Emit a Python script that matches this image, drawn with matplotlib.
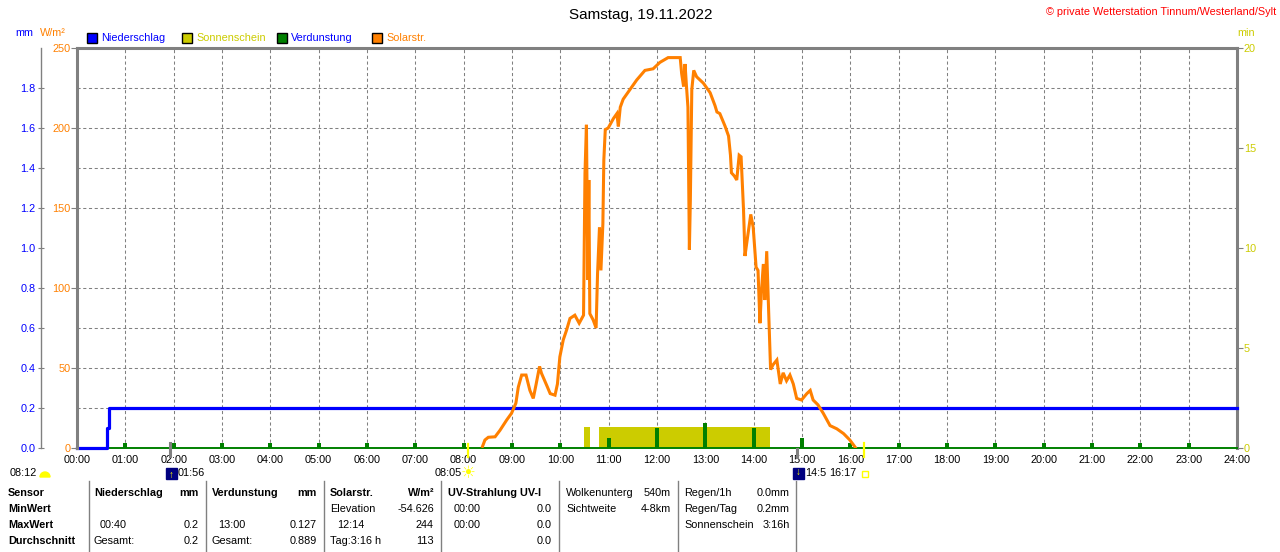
import matplotlib
matplotlib.use("Agg")
import matplotlib.pyplot as plt
from matplotlib.patches import Rectangle, Wedge
from matplotlib.transforms import IdentityTransform

plt.rcParams['font.family'] = ['Liberation Sans', 'DejaVu Sans']
plt.rcParams['font.size'] = 7.8

# Solarstrahlung (W/m²), Zeit in Stunden
solar_t = [8.39, 8.44, 8.51, 8.65, 8.75, 8.89, 8.99, 9.08, 9.13, 9.20,
           9.29, 9.37, 9.44, 9.50, 9.57, 9.61, 9.72, 9.79, 9.89, 9.94,
           9.99, 10.06, 10.13, 10.20, 10.30, 10.39, 10.48, 10.51, 10.54, 10.57,
           10.59, 10.61, 10.68, 10.74, 10.77, 10.81, 10.84, 10.88, 10.90, 10.93,
           10.99, 11.10, 11.17, 11.20, 11.24, 11.30, 11.44, 11.58, 11.75, 11.92,
           12.06, 12.23, 12.48, 12.51, 12.55, 12.58, 12.61, 12.64, 12.67, 12.69,
           12.72, 12.76, 12.82, 12.96, 13.10, 13.20, 13.24, 13.30, 13.41, 13.48,
           13.52, 13.54, 13.60, 13.65, 13.70, 13.74, 13.79, 13.82, 13.87, 13.94,
           13.99, 14.05, 14.09, 14.13, 14.16, 14.20, 14.23, 14.27, 14.30, 14.35,
           14.40, 14.48, 14.55, 14.61, 14.68, 14.75, 14.82, 14.89, 14.99, 15.10,
           15.17, 15.23, 15.33, 15.44, 15.58, 15.72, 15.86, 15.99, 16.10]
solar_w = [1, 5, 6.7, 7, 11, 17.5, 21.7, 28, 38, 45.6,
           45.6, 36, 31, 40, 51, 46.7, 39, 34, 33, 40,
           57, 67.5, 73.8, 81, 83, 78, 83, 171.7, 202, 105,
           167.5, 84, 80, 75, 109, 138, 111, 140, 180, 199,
           200, 206, 209, 201, 213, 218, 224, 230, 236, 237,
           241, 244, 244, 234, 226, 240, 226, 213, 124, 155,
           224, 236, 232, 228, 222, 214, 210, 209, 201, 195,
           183, 172, 170, 167.5, 183, 182, 149, 120, 131, 146,
           138, 113, 111, 78, 97, 115, 92.5, 123, 94.6, 49,
           52, 55, 40, 47, 42, 45.6, 40, 31, 30, 34,
           36, 30, 27, 21.7, 14, 12, 9, 5, 0.5]

# Niederschlag (mm), Treppenkurve
rain_t = [0, 0.63, 0.66, 24]
rain_mm = [0, 0.1, 0.2, 0.2]

# Verdunstung pro Stunde (mm)
evap_t = list(range(1, 24))
evap_mm = [0.025, 0.025, 0.025, 0.025, 0.025, 0.025, 0.025, 0.025, 0.025, 0.025,
           0.05, 0.1, 0.125, 0.1, 0.05, 0.025, 0.025, 0.025, 0.025, 0.025,
           0.025, 0.025, 0.025]

# Sonnenschein (min)
sun_start = [10.48, 10.79]
sun_end = [10.61, 14.34]
sun_min = [1.05, 1.05]

# Auf-/Untergang
moon_rise, sun_rise, moon_set, sun_set = 1.933, 8.083, 14.9, 16.283

hour_labels = [f"{h:02d}:00" for h in range(25)]

BLUE = "#0000FF"
ORANGE = "#FF8000"
YELLOW = "#CCCC00"
GREEN = "#008000"
GRAY = "#808080"

W, H = 1280, 552
fig = plt.figure(figsize=(W / 100, H / 100), dpi=100)


def fx(px):
    return px / W


def fy(py):
    return 1 - py / H


pos = [fx(77), fy(448), 1160 / W, 400 / H]
ax_min = fig.add_axes(pos)
ax_mm = fig.add_axes(pos, sharex=ax_min)
ax = fig.add_axes(pos, sharex=ax_min)
ax_min.set_zorder(1)
ax_mm.set_zorder(2)
ax.set_zorder(3)
ax_mm.patch.set_visible(False)
ax.patch.set_visible(False)

# --- Sonnenschein (unterste Ebene) + Gitter
ax_min.bar(sun_start, sun_min, width=[e - s for s, e in zip(sun_start, sun_end)],
           align='edge', color=YELLOW, linewidth=0, zorder=2)
ax_min.set_ylim(0, 20)
ax_min.set_xlim(0, 24)
ax_min.set_yticks([0, 5, 10, 15, 20])
ax_min.set_yticks(range(2, 20, 2), minor=True)
grid_style = dict(color=GRAY, lw=0.75, linestyle=(0, (3, 2.5)))
ax_min.grid(True, axis='x', which='major', **grid_style)
ax_min.grid(True, axis='y', which='minor', **grid_style)
ax_min.set_axisbelow(True)
for s in ax_min.spines.values():
    s.set_visible(False)
ax_min.spines['right'].set_visible(True)
ax_min.spines['right'].set_color(GRAY)
ax_min.spines['right'].set_linewidth(2.2)
ax_min.yaxis.tick_right()
ax_min.tick_params(axis='y', which='major', colors=GRAY, labelcolor=YELLOW, length=4.3, width=0.8, pad=0.5)
ax_min.tick_params(axis='y', which='minor', length=0)
ax_min.tick_params(axis='x', length=0, labelbottom=False)

# --- Niederschlag und Verdunstung
ax_mm.set_ylim(0, 2)
ax_mm.axhline(0, color=GREEN, lw=1.4, clip_on=False)
ax_mm.bar(evap_t, evap_mm, width=0.08, color=GREEN, linewidth=0)
ax_mm.plot(rain_t, rain_mm, drawstyle='steps-post', color=BLUE, lw=2.3, clip_on=False)
for s in ax_mm.spines.values():
    s.set_visible(False)
ax_mm.spines['left'].set_visible(True)
ax_mm.spines['left'].set_position(('outward', 25.9))
ax_mm.spines['left'].set_color(GRAY)
ax_mm.spines['left'].set_linewidth(1)
ax_mm.set_yticks([0.2 * i for i in range(10)])
ax_mm.set_yticklabels([f"{0.2 * i:.1f}" for i in range(10)])
ax_mm.tick_params(axis='y', direction='inout', colors=GRAY, labelcolor=BLUE,
                  length=5, width=0.8, pad=1.5)
ax_mm.tick_params(axis='x', length=0, labelbottom=False)

# --- Solarstrahlung
ax.plot(solar_t, solar_w, color=ORANGE, lw=2.2, solid_joinstyle='miter')
ax.set_ylim(0, 250)
ax.set_xlim(0, 24)
ax.set_yticks(range(0, 251, 50))
ax.set_xticks(range(25))
ax.set_xticklabels(hour_labels)
ax.tick_params(axis='y', colors=GRAY, labelcolor=ORANGE, length=4.3, width=0.8, pad=0.5)
ax.tick_params(axis='x', length=0, pad=5, labelcolor='black')
for name, s in ax.spines.items():
    s.set_color(GRAY)
    s.set_linewidth(2.2)
ax.spines['bottom'].set_visible(False)
ax.spines['right'].set_visible(False)

# Markierungen unter der Zeitachse
xt = ax.get_xaxis_transform()
ax.plot([moon_rise, moon_rise], [0.012, -0.02], transform=xt, color=GRAY, lw=2.2, clip_on=False)
ax.plot([moon_set, moon_set], [-0.002, -0.022], transform=xt, color=GRAY, lw=2.2, clip_on=False)
ax.plot([sun_rise, sun_rise], [0.01, -0.022], transform=xt, color="#FFFF00", lw=1.6, clip_on=False)
ax.plot([sun_set, sun_set], [0.012, -0.022], transform=xt, color="#FFFF00", lw=1.6, clip_on=False)

# --- Texte oben
fig.text(fx(641), fy(15), "Samstag, 19.11.2022", ha='center', va='center', fontsize=11)
fig.text(fx(1276), fy(12), "© private Wetterstation Tinnum/Westerland/Sylt",
         ha='right', va='center', color="#FF0000")
fig.text(fx(15), fy(33), "mm", ha='left', va='center', color=BLUE)
fig.text(fx(40), fy(33), "W/m²", ha='left', va='center', color=ORANGE)
fig.text(fx(1237), fy(33), "min", ha='left', va='center', color=YELLOW)

legend = [("Niederschlag", BLUE, BLUE, 87), ("Sonnenschein", YELLOW, YELLOW, 182),
          ("Verdunstung", GREEN, BLUE, 277), ("Solarstr.", ORANGE, ORANGE, 372)]
for label, fc, tc, x0 in legend:
    fig.add_artist(Rectangle((x0, H - 43), 10, 10, facecolor=fc, edgecolor='black',
                             lw=1, transform=IdentityTransform()))
    fig.text(fx(x0 + 14), fy(38), label, ha='left', va='center', color=tc)

# --- Auf-/Untergangszeiten
fig.text(fx(10), fy(473), "08:12", ha='left', va='center')
fig.add_artist(Wedge((45, H - 477), 5, 0, 180, color="#FFFF00", transform=IdentityTransform()))
fig.add_artist(Rectangle((166, H - 479), 11, 11, color="#000080", transform=IdentityTransform()))
fig.text(fx(171.5), fy(475), "↑", ha='center', va='center', color="#FFFF00", fontsize=7, fontweight='bold')
fig.text(fx(178), fy(473), "01:56", ha='left', va='center')
fig.text(fx(435), fy(473), "08:05", ha='left', va='center')
fig.text(fx(468), fy(473), "☀", ha='center', va='center', color="#FFFF00", fontsize=12,
         family=['DejaVu Sans'])
fig.add_artist(Rectangle((793, H - 479), 11, 11, color="#000080", transform=IdentityTransform()))
fig.text(fx(798.5), fy(472), "↓", ha='center', va='center', color="#FFFF00", fontsize=7, fontweight='bold')
fig.text(fx(805), fy(473), "14:5", ha='left', va='center')
fig.text(fx(829), fy(473), "16:17", ha='left', va='center')
fig.add_artist(Rectangle((862, H - 477), 6, 6, facecolor='none', edgecolor="#FFFF00",
                         lw=1, transform=IdentityTransform()))

# --- Tabelle unten
for xs in [89, 206, 324, 441, 559, 678, 796]:
    fig.add_artist(plt.Line2D([fx(xs), fx(xs)], [fy(481), fy(552)], color=GRAY, lw=1))

rows_y = [493, 509, 525, 541]
bold_cells = [
    (8, 0, "Sensor", 'left'), (8, 1, "MinWert", 'left'), (8, 2, "MaxWert", 'left'),
    (8, 3, "Durchschnitt", 'left'),
    (94, 0, "Niederschlag", 'left'), (199, 0, "mm", 'right'),
    (212, 0, "Verdunstung", 'left'), (317, 0, "mm", 'right'),
    (330, 0, "Solarstr.", 'left'), (434, 0, "W/m²", 'right'),
    (448, 0, "UV-Strahlung UV-I", 'left'),
]
cells = [
    (566, 0, "Wolkenunterg", 'left'), (671, 0, "540m", 'right'),
    (684, 0, "Regen/1h", 'left'), (790, 0, "0.0mm", 'right'),
    (330, 1, "Elevation", 'left'), (434, 1, "-54.626", 'right'),
    (454, 1, "00:00", 'left'), (552, 1, "0.0", 'right'),
    (566, 1, "Sichtweite", 'left'), (671, 1, "4-8km", 'right'),
    (684, 1, "Regen/Tag", 'left'), (790, 1, "0.2mm", 'right'),
    (100, 2, "00:40", 'left'), (199, 2, "0.2", 'right'),
    (218, 2, "13:00", 'left'), (317, 2, "0.127", 'right'),
    (337, 2, "12:14", 'left'), (434, 2, "244", 'right'),
    (454, 2, "00:00", 'left'), (552, 2, "0.0", 'right'),
    (684, 2, "Sonnenschein", 'left'), (790, 2, "3:16h", 'right'),
    (94, 3, "Gesamt:", 'left'), (199, 3, "0.2", 'right'),
    (212, 3, "Gesamt:", 'left'), (317, 3, "0.889", 'right'),
    (330, 3, "Tag:3:16 h", 'left'), (434, 3, "113", 'right'),
    (552, 3, "0.0", 'right'),
]
for x, r, s, ha in bold_cells:
    fig.text(fx(x), fy(rows_y[r]), s, ha=ha, va='center', fontweight='bold')
for x, r, s, ha in cells:
    fig.text(fx(x), fy(rows_y[r]), s, ha=ha, va='center')

fig.savefig("out.png", dpi=100)
